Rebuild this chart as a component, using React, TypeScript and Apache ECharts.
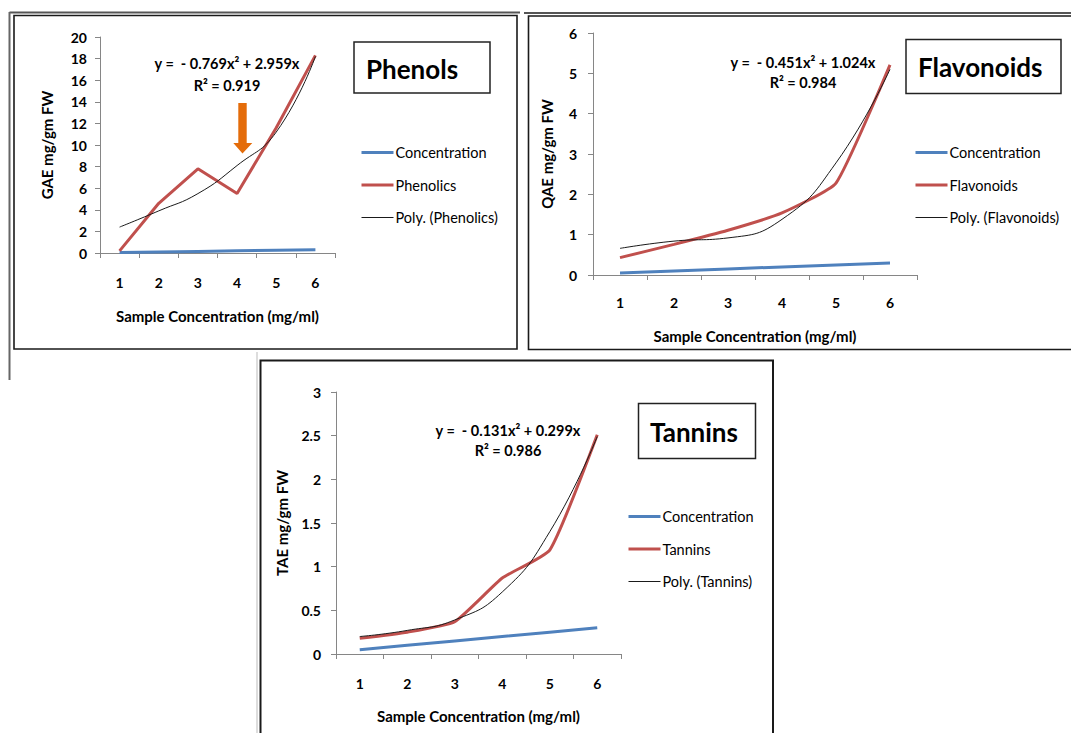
import React, { useEffect, useRef } from "react";
import * as echarts from "echarts";

const categories = ["1", "2", "3", "4", "5", "6"];
const concentration = [0.05, 0.1, 0.15, 0.2, 0.25, 0.3];
const phenolics = [0.2, 4.6, 7.8, 5.5, 11.6, 18.3];
const polyPhenolics = [2.4, 3.9, 5.5, 8.1, 11.2, 18.2];
const flavonoids = [0.43, 0.76, 1.11, 1.54, 2.28, 5.21];
const polyFlavonoids = [0.66, 0.84, 0.92, 1.38, 2.78, 5.1];
const tannins = [0.18, 0.25, 0.37, 0.87, 1.19, 2.51];
const polyTannins = [0.2, 0.27, 0.39, 0.71, 1.4, 2.49];

const panelTitles = ["Phenols", "Flavonoids", "Tannins"];
const yAxisNames = ["GAE mg/gm FW", "QAE mg/gm FW", "TAE mg/gm FW"];
const xAxisName = "Sample Concentration (mg/ml)";
const yMax = [20, 6, 3];
const yInterval = [2, 1, 0.5];
const equations = ["y =  - 0.769x² + 2.959x", "y =  - 0.451x² + 1.024x", "y =  - 0.131x² + 0.299x"];
const rSquared = ["R² = 0.919", "R² = 0.984", "R² = 0.986"];
const seriesNames = [
  ["Concentration", "Phenolics", "Poly. (Phenolics)"],
  ["Concentration", "Flavonoids", "Poly. (Flavonoids)"],
  ["Concentration", "Tannins", "Poly. (Tannins)"],
];

const FONT = "Lato";
const BLUE = "#4F81BD";
const RED = "#C0504D";
const POLY = "#1a1a1a";
const AXIS = "#868686";

export default function App() {
  const ref = useRef<HTMLDivElement>(null);
  useEffect(() => {
    if (!ref.current) return;
    const chart = echarts.init(ref.current, undefined, { renderer: "svg" });

    const grids = [
      { left: 100, top: 37, width: 235, height: 216 },
      { left: 593, top: 33, width: 324, height: 242 },
      { left: 336, top: 392, width: 285, height: 262 },
    ];
    const xLabelMargin = [22, 20, 22];
    const xNameGap = [55, 53, 54];
    const yLabelMargin = [13, 16, 15];
    const yNameGap = [46, 39, 47];

    const xAxis = grids.map((_, i) => ({
      type: "category",
      gridIndex: i,
      data: categories,
      boundaryGap: true,
      axisLine: { show: true, lineStyle: { color: AXIS, width: 1 } },
      axisTick: { show: true, length: 5, lineStyle: { color: AXIS } },
      axisLabel: { margin: xLabelMargin[i], fontWeight: "bold", fontSize: 14, color: "#000", fontFamily: FONT },
      splitLine: { show: false },
      name: xAxisName,
      nameLocation: "middle",
      nameGap: xNameGap[i],
      nameTextStyle: { fontWeight: "bold", fontSize: 15, color: "#000", fontFamily: FONT },
    }));

    const yAxis = grids.map((_, i) => ({
      type: "value",
      gridIndex: i,
      min: 0,
      max: yMax[i],
      interval: yInterval[i],
      axisLine: { show: true, lineStyle: { color: AXIS, width: 1 } },
      axisTick: { show: true, length: 5, lineStyle: { color: AXIS } },
      axisLabel: { margin: yLabelMargin[i], fontWeight: "bold", fontSize: 14, color: "#000", fontFamily: FONT },
      splitLine: { show: false },
      name: yAxisNames[i],
      nameLocation: "middle",
      nameGap: yNameGap[i],
      nameTextStyle: { fontWeight: "bold", fontSize: 15, color: "#000", fontFamily: FONT },
    }));

    const reds = [phenolics, flavonoids, tannins];
    const polys = [polyPhenolics, polyFlavonoids, polyTannins];
    const redSmooth = [false, 0.15, 0.15];
    const series: any[] = [];
    for (let i = 0; i < 3; i++) {
      series.push({
        type: "line",
        name: seriesNames[i][0],
        xAxisIndex: i,
        yAxisIndex: i,
        data: concentration,
        symbol: "none",
        lineStyle: { color: BLUE, width: 3 },
        itemStyle: { color: BLUE },
        z: 2,
      });
      series.push({
        type: "line",
        name: seriesNames[i][1],
        xAxisIndex: i,
        yAxisIndex: i,
        data: reds[i],
        symbol: "none",
        smooth: redSmooth[i],
        lineStyle: { color: RED, width: 3 },
        itemStyle: { color: RED },
        z: 3,
      });
      series.push({
        type: "line",
        name: seriesNames[i][2],
        xAxisIndex: i,
        yAxisIndex: i,
        data: polys[i],
        symbol: "none",
        smooth: 0.5,
        lineStyle: { color: POLY, width: 1 },
        itemStyle: { color: POLY },
        z: 4,
      });
    }

    const legendPos = [
      { left: 360, top: 145 },
      { left: 914, top: 145 },
      { left: 627, top: 509 },
    ];
    const legendColors = [BLUE, RED, POLY];
    const legendWidths = [3, 3, 1.2];
    const legend = legendPos.map((p, i) => ({
      ...p,
      orient: "vertical",
      selectedMode: false,
      data: seriesNames[i].map((n, k) => ({
        name: n,
        lineStyle: { color: legendColors[k], width: legendWidths[k] },
      })),
      itemWidth: 32,
      itemHeight: 14,
      itemGap: 17.5,
      padding: 0,
      itemStyle: { opacity: 0 },
      textStyle: { fontSize: 14.5, color: "#000", fontFamily: FONT, padding: [0, 0, 0, -3] },
    }));

    const titleBoxes = [
      { x: 354, y: 42, w: 136, h: 51, tx: 366, ty: 69 },
      { x: 906, y: 39.5, w: 155, h: 54, tx: 918, ty: 67 },
      { x: 638.5, y: 403.5, w: 117, h: 55, tx: 650, ty: 432 },
    ];
    const eqPos = [
      { x: 227, y1: 63, y2: 85 },
      { x: 803, y1: 62, y2: 82 },
      { x: 508, y1: 430, y2: 450 },
    ];

    const graphic: any[] = [];
    graphic.push(
      { type: "line", shape: { x1: 9.5, y1: 12.5, x2: 520, y2: 12.5 }, style: { stroke: "#555", lineWidth: 2 } },
      { type: "line", shape: { x1: 9.5, y1: 12, x2: 9.5, y2: 380 }, style: { stroke: "#666", lineWidth: 2 } },
      { type: "rect", shape: { x: 14, y: 15.5, width: 503, height: 333.5 }, style: { fill: "none", stroke: "#1a1a1a", lineWidth: 1.6 } },
      { type: "line", shape: { x1: 524, y1: 13, x2: 1071, y2: 13 }, style: { stroke: "#555", lineWidth: 2 } },
      { type: "rect", shape: { x: 528.5, y: 16, width: 560, height: 333.5 }, style: { fill: "none", stroke: "#1a1a1a", lineWidth: 1.6 } },
      { type: "line", shape: { x1: 257, y1: 352, x2: 257, y2: 733 }, style: { stroke: "#bbb", lineWidth: 1 } },
      { type: "rect", shape: { x: 260.5, y: 360.5, width: 512.5, height: 420 }, style: { fill: "none", stroke: "#1a1a1a", lineWidth: 2 } }
    );
    titleBoxes.forEach((b, i) => {
      graphic.push({
        type: "rect",
        shape: { x: b.x, y: b.y, width: b.w, height: b.h },
        style: { fill: "#fff", stroke: "#222", lineWidth: 1.5 },
      });
      graphic.push({
        type: "text",
        x: b.tx,
        y: b.ty,
        style: { text: panelTitles[i], fill: "#000", font: `bold 26px ${FONT}`, align: "left", verticalAlign: "middle" },
      });
    });
    eqPos.forEach((e, i) => {
      graphic.push({
        type: "text",
        x: e.x,
        y: e.y1,
        z: 10,
        style: { text: equations[i], fill: "#000", font: `bold 14.5px ${FONT}`, align: "center", verticalAlign: "middle" },
      });
      graphic.push({
        type: "text",
        x: e.x,
        y: e.y2,
        z: 10,
        style: { text: rSquared[i], fill: "#000", font: `bold 14.5px ${FONT}`, align: "center", verticalAlign: "middle" },
      });
    });
    graphic.push({
      type: "polygon",
      z: 10,
      shape: {
        points: [
          [238.3, 103],
          [246.7, 103],
          [246.7, 143],
          [252.3, 143],
          [242.5, 153.5],
          [233.3, 143],
          [238.3, 143],
        ],
      },
      style: { fill: "#E46C0A" },
    });

    chart.setOption({
      animation: false,
      backgroundColor: "#fff",
      textStyle: { fontFamily: FONT },
      grid: grids,
      xAxis,
      yAxis,
      legend,
      series,
      graphic,
    });
    return () => chart.dispose();
  }, []);

  return (
    <div
      ref={ref}
      style={{ position: "fixed", left: 0, top: 0, width: 1071, height: 733, background: "#fff" }}
    />
  );
}
